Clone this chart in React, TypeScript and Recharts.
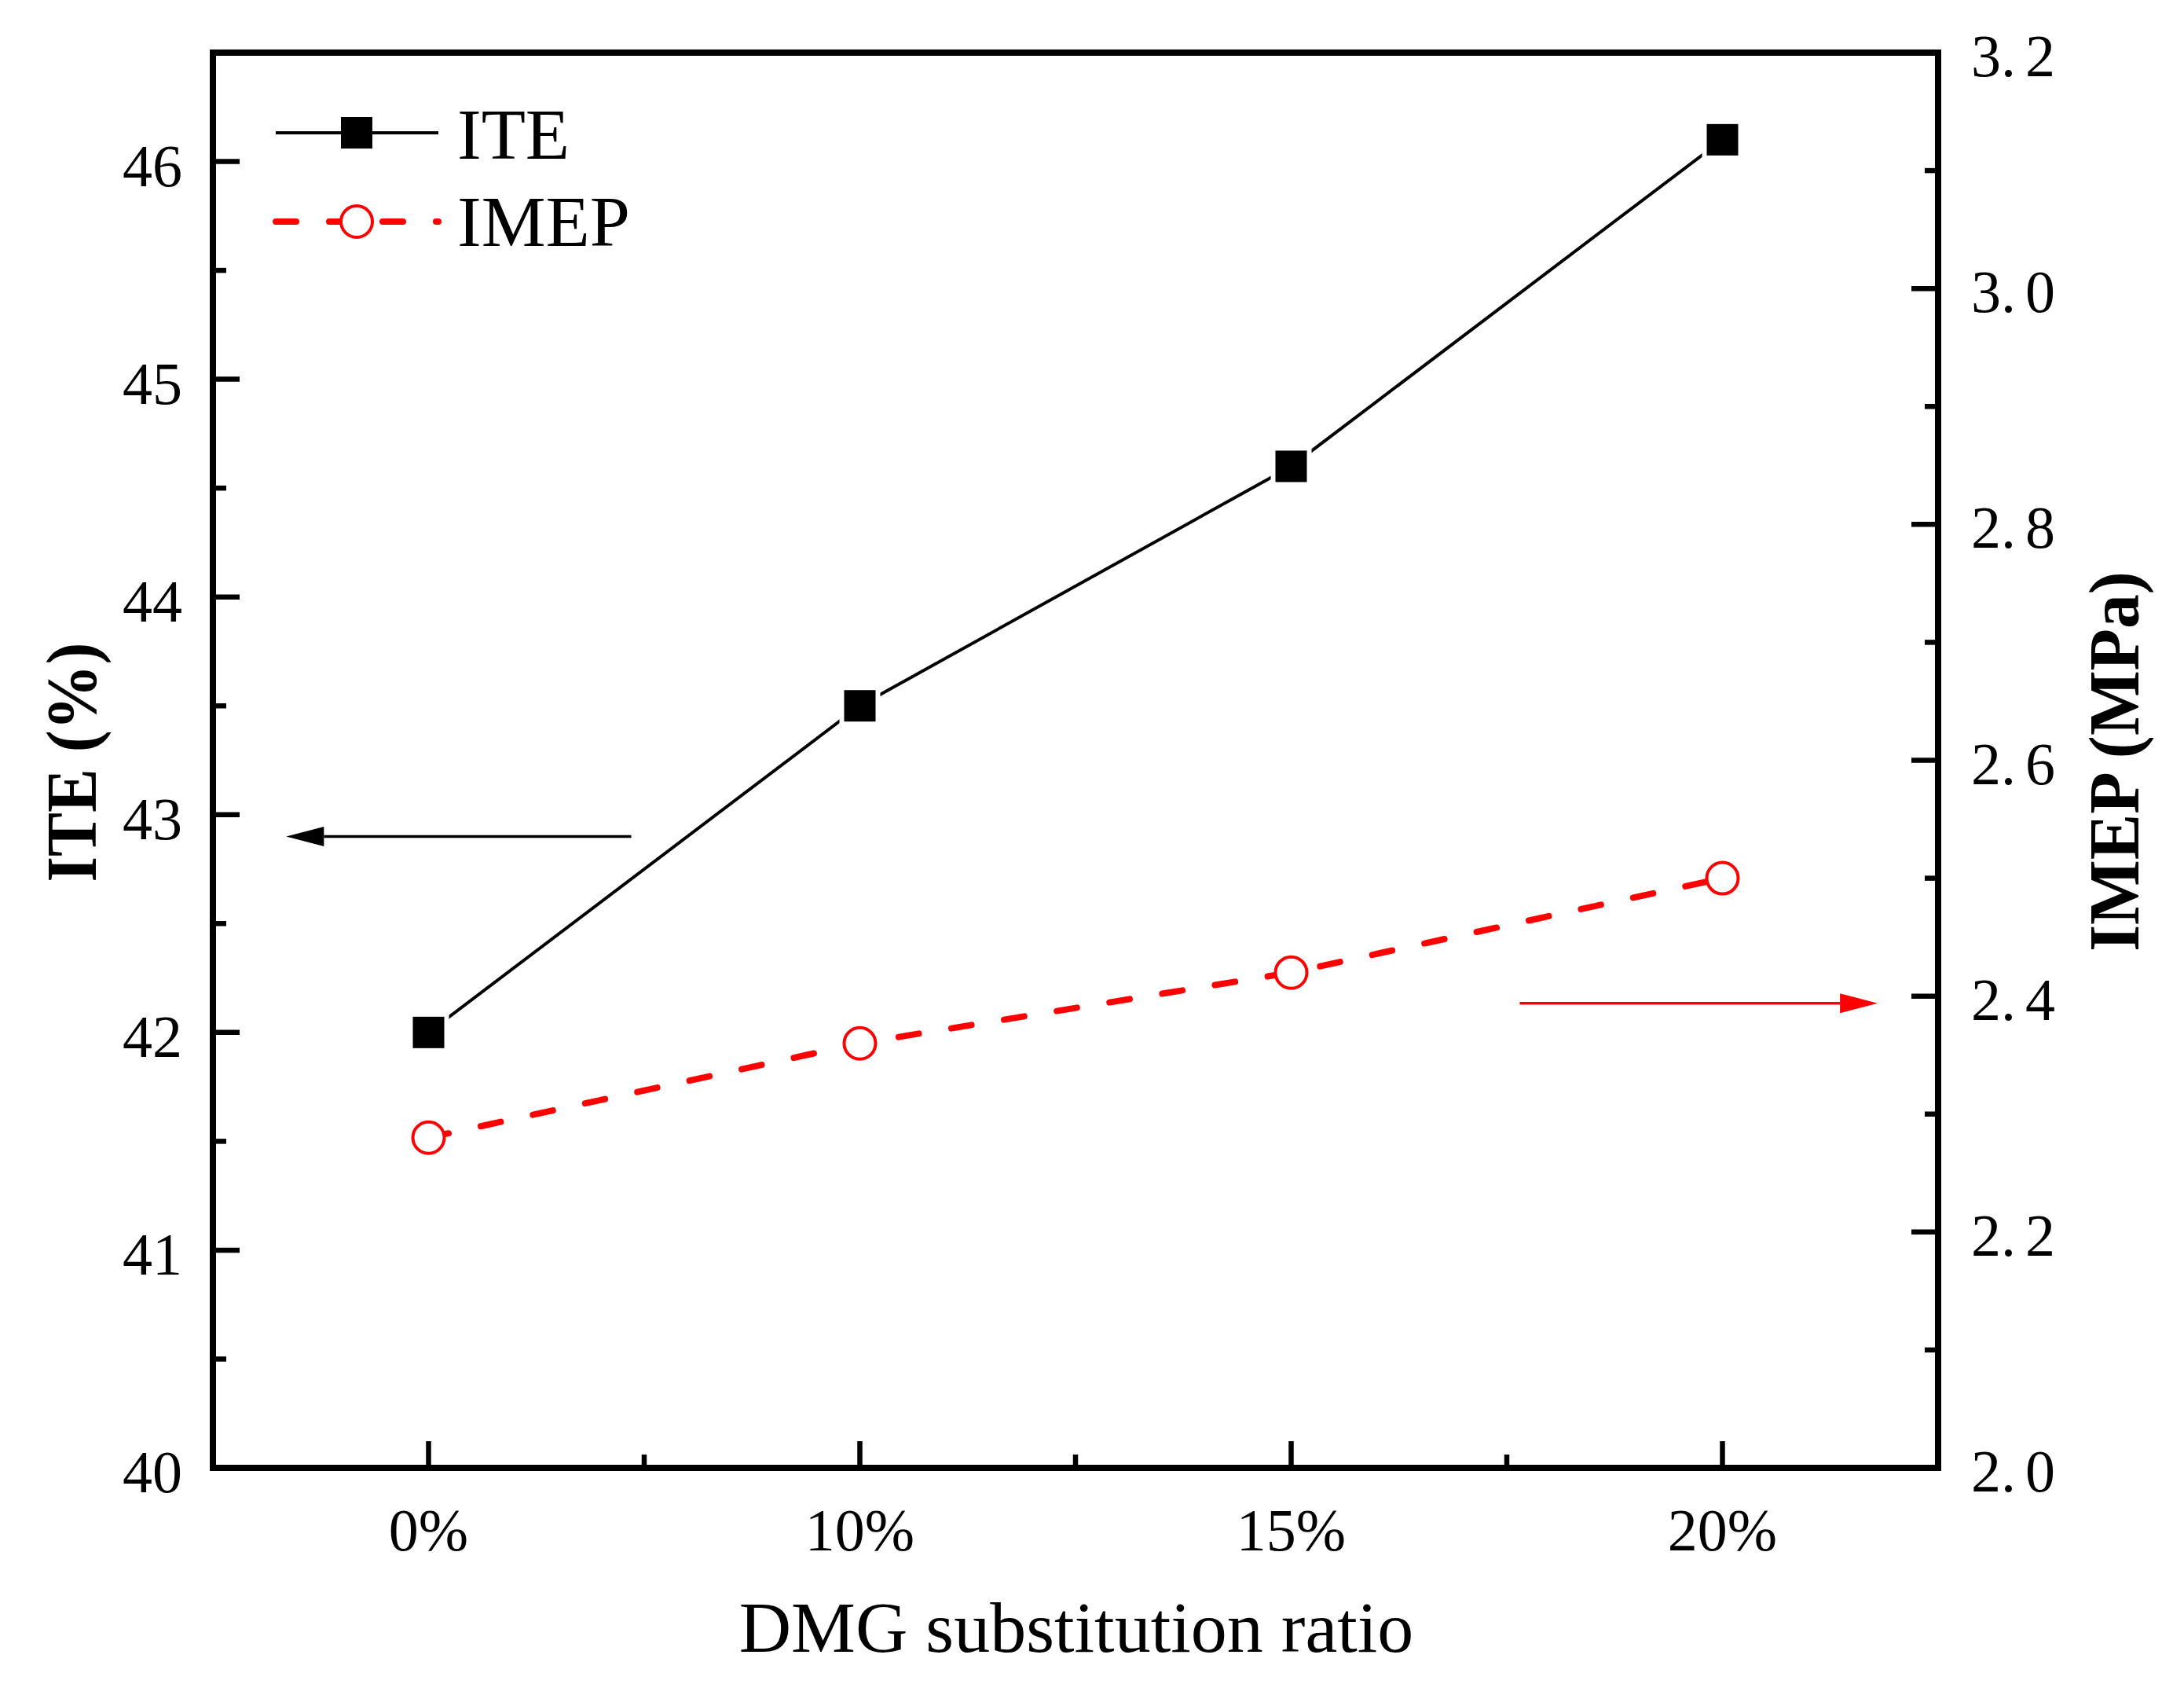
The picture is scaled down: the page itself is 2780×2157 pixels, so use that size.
import React from 'react';
import { LineChart, Line, XAxis, YAxis, Legend, ReferenceLine, Label } from 'recharts';

const FONT = "'Liberation Serif', 'Times New Roman', serif";

// data
const categories = ['0%', '10%', '15%', '20%'];
const iteValues = [42.0, 43.5, 44.6, 46.1];
const imepValues = [2.28, 2.36, 2.42, 2.5];

// ticks (major + minor)
const xTicks = [0, 0.5, 1, 1.5, 2, 2.5, 3];
const leftTicks = [40, 40.5, 41, 41.5, 42, 42.5, 43, 43.5, 44, 44.5, 45, 45.5, 46];
const rightTicks = [2.0, 2.1, 2.2, 2.3, 2.4, 2.5, 2.6, 2.7, 2.8, 2.9, 3.0, 3.1, 3.2];
const leftDomain = [40, 46.5];
const rightDomain = [2, 3.2];

// annotation arrows (axis units)
const iteArrow = { from: 0.47, to: -0.33, value: 42.9 };
const imepArrow = { from: 2.53, to: 3.36, value: 2.394 };

const rows = categories.map((c, i) => ({ idx: i, label: c, ite: iteValues[i], imep: imepValues[i] }));

const XTick = (props: any) => {
  const { x, y, payload } = props;
  const v = payload.value;
  const major = Number.isInteger(v);
  return (
    <g>
      <line x1={x} x2={x} y1={y} y2={y - (major ? 34 : 17)} stroke="#000" strokeWidth={6.5} />
      {major && (
        <text x={x} y={y + 105} textAnchor="middle" fontSize={76} fontFamily={FONT} fill="#000">
          {categories[v]}
        </text>
      )}
    </g>
  );
};

const LeftTick = (props: any) => {
  const { x, y, payload } = props;
  const v = payload.value;
  const major = Number.isInteger(v);
  return (
    <g>
      <line x1={x} x2={x + (major ? 34 : 17)} y1={y} y2={y} stroke="#000" strokeWidth={6.5} />
      {major && (
        <text x={x - 39} y={y + 31} textAnchor="end" fontSize={76} fontFamily={FONT} fill="#000">
          {v}
        </text>
      )}
    </g>
  );
};

const RightTick = (props: any) => {
  const { x, y, payload } = props;
  const v = payload.value;
  const major = Math.round(v * 10) % 2 === 0;
  const edge = v >= rightDomain[1];
  const [a, b] = v.toFixed(1).split('.');
  return (
    <g>
      {!edge && <line x1={x} x2={x - (major ? 34 : 17)} y1={y} y2={y} stroke="#000" strokeWidth={6.5} />}
      {major && (
        <text x={x + 42} y={y + 30} fontSize={76} fontFamily={FONT} fill="#000">
          <tspan>{a}.</tspan>
          <tspan dx={12}>{b}</tspan>
        </text>
      )}
    </g>
  );
};

const SquareDot = (props: any) => {
  const { cx, cy, index } = props;
  return (
    <g key={`sq-${index}`}>
      <rect x={cx - 26} y={cy - 26} width={52} height={52} fill="#fff" />
      <rect x={cx - 20} y={cy - 20} width={40} height={40} fill="#000" />
    </g>
  );
};

const CircleDot = (props: any) => {
  const { cx, cy, index } = props;
  return <circle key={`ci-${index}`} cx={cx} cy={cy} r={20} fill="#fff" stroke="#ff0000" strokeWidth={4} />;
};

const arrowShape = (color: string) => (props: any) => {
  const { x1, y1, x2, y2 } = props;
  const dir = Math.sign(x2 - x1);
  const baseX = x2 - dir * 48;
  return (
    <g>
      <line x1={x1} y1={y1} x2={baseX} y2={y2} stroke={color} strokeWidth={3.5} />
      <polygon points={`${x2},${y2} ${baseX},${y2 - 12.5} ${baseX},${y2 + 12.5}`} fill={color} />
    </g>
  );
};

const LegendContent = () => (
  <svg width={560} height={230} style={{ display: 'block', overflow: 'visible' }}>
    <line x1={11} x2={218} y1={69} y2={69} stroke="#000" strokeWidth={4} />
    <rect x={94} y={49} width={40} height={40} fill="#000" />
    <text x={242} y={102} fontSize={92} fontFamily={FONT} fill="#000">ITE</text>
    <line x1={11} x2={218} y1={182} y2={182} stroke="#ff0000" strokeWidth={8} strokeDasharray="26 42" strokeLinecap="round" />
    <circle cx={114} cy={182} r={20} fill="#fff" stroke="#ff0000" strokeWidth={4} />
    <text x={242} y={213} fontSize={92} fontFamily={FONT} fill="#000">IMEP</text>
  </svg>
);

const LeftTitle = () => (
  <text
    x={122}
    y={970}
    transform="rotate(-90 122 970)"
    textAnchor="middle"
    fontSize={92}
    fontWeight="bold"
    fontFamily={FONT}
    fill="#000"
    textLength={305}
    lengthAdjust="spacingAndGlyphs"
  >
    ITE (%)
  </text>
);

const RightTitle = () => (
  <text
    x={2722}
    y={969}
    transform="rotate(-90 2722 969)"
    textAnchor="middle"
    fontSize={92}
    fontWeight="bold"
    fontFamily={FONT}
    fill="#000"
    textLength={484}
    lengthAdjust="spacingAndGlyphs"
  >
    IMEP (MPa)
  </text>
);

const BottomTitle = () => (
  <text x={1370} y={2102} textAnchor="middle" fontSize={92} fontFamily={FONT} fill="#000">
    DMG substitution ratio
  </text>
);

const axisLine = { stroke: '#000', strokeWidth: 8, strokeLinecap: 'square' as const };

export default function App() {
  return (
    <div style={{ position: 'absolute', left: 0, top: 0, width: 2780, height: 2157, background: '#fff' }}>
      <LineChart width={2780} height={2157} data={rows} margin={{ top: 67, right: 0, bottom: 0, left: 0 }}>
        <XAxis
          xAxisId="b"
          dataKey="idx"
          type="number"
          domain={[-0.5, 3.5]}
          ticks={xTicks}
          interval={0}
          height={289}
          tickSize={0}
          tickMargin={0}
          tickLine={false}
          axisLine={axisLine}
          tick={XTick}
        >
          <Label content={BottomTitle} />
        </XAxis>
        <YAxis
          yAxisId="l"
          orientation="left"
          width={271}
          domain={leftDomain}
          ticks={leftTicks}
          interval={0}
          tickSize={0}
          tickMargin={0}
          tickLine={false}
          axisLine={axisLine}
          tick={LeftTick}
        >
          <Label content={LeftTitle} />
        </YAxis>
        <YAxis
          yAxisId="r"
          orientation="right"
          width={313}
          domain={rightDomain}
          ticks={rightTicks}
          interval={0}
          tickSize={0}
          tickMargin={0}
          tickLine={false}
          axisLine={axisLine}
          tick={RightTick}
        >
          <Label content={RightTitle} />
        </YAxis>
        {/* top frame line */}
        <ReferenceLine
          xAxisId="b"
          yAxisId="l"
          y={leftDomain[1]}
          stroke="#000"
          strokeWidth={8}
          strokeLinecap="square"
        />
        <ReferenceLine
          xAxisId="b"
          yAxisId="l"
          segment={[
            { x: iteArrow.from, y: iteArrow.value },
            { x: iteArrow.to, y: iteArrow.value },
          ]}
          shape={arrowShape('#000')}
        />
        <ReferenceLine
          xAxisId="b"
          yAxisId="r"
          segment={[
            { x: imepArrow.from, y: imepArrow.value },
            { x: imepArrow.to, y: imepArrow.value },
          ]}
          shape={arrowShape('#ff0000')}
        />
        <Line
          xAxisId="b"
          yAxisId="l"
          dataKey="ite"
          stroke="#000"
          strokeWidth={4}
          dot={SquareDot}
          activeDot={false}
          isAnimationActive={false}
        />
        <Line
          xAxisId="b"
          yAxisId="r"
          dataKey="imep"
          stroke="#ff0000"
          strokeWidth={8}
          strokeDasharray="26 42"
          strokeLinecap="round"
          dot={CircleDot}
          activeDot={false}
          isAnimationActive={false}
        />
        <Legend
          layout="horizontal"
          verticalAlign="middle"
          align="center"
          content={LegendContent}
          wrapperStyle={{ left: 340, top: 100, width: 560, height: 230 }}
        />
      </LineChart>
    </div>
  );
}
